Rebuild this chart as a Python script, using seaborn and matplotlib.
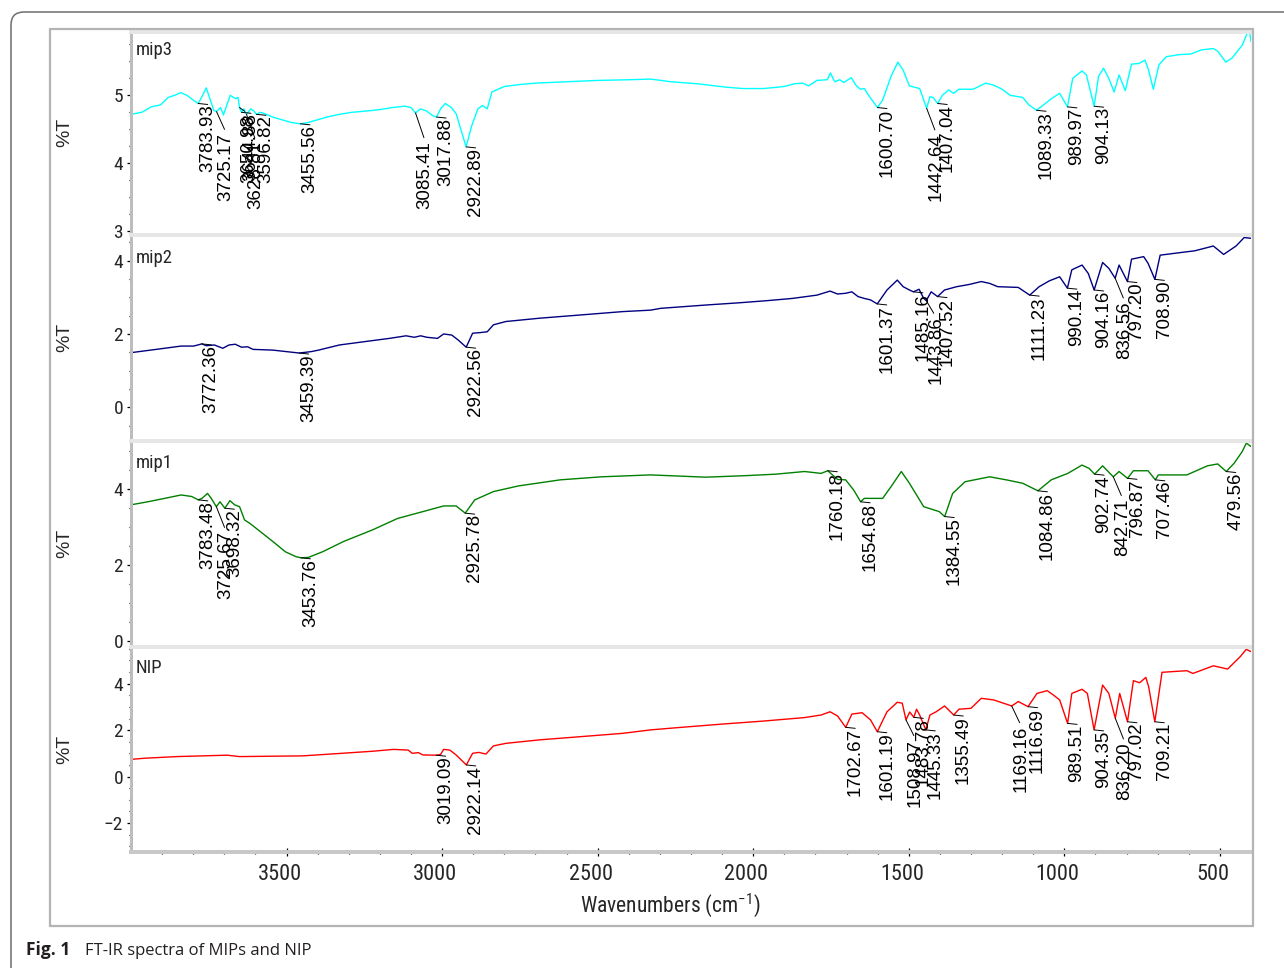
import matplotlib
matplotlib.use("Agg")
import numpy as np
import pandas as pd
import matplotlib.pyplot as plt
import seaborn as sns
from matplotlib import font_manager
from matplotlib.patches import FancyBboxPatch, Rectangle
from matplotlib.transforms import IdentityTransform, ScaledTranslation
from matplotlib.ticker import FixedLocator

# ---------------------------------------------------------------- data
# FT-IR transmittance (%T) spectra: (wavenumber cm-1, %T)
mip3_spectrum = [
    (4000, 4.72), (3965, 4.75), (3935, 4.83), (3905, 4.86), (3880, 4.97), (3860, 5.00),
    (3840, 5.04), (3820, 5.00), (3800, 4.93), (3783.93, 4.88), (3772, 4.98), (3758, 5.11),
    (3745, 4.93), (3734, 4.78), (3725.17, 4.76), (3712, 4.82), (3703, 4.71), (3681, 5.00),
    (3664, 4.95), (3656, 4.97), (3650.98, 4.82), (3644.88, 4.75), (3637, 4.80), (3628.81, 4.72),
    (3615, 4.80), (3605, 4.77), (3596.82, 4.72), (3585, 4.75), (3570, 4.73), (3545, 4.68),
    (3515, 4.64), (3485, 4.60), (3455.56, 4.58), (3430, 4.60), (3400, 4.64), (3370, 4.68),
    (3330, 4.72), (3290, 4.75), (3240, 4.77), (3200, 4.79), (3160, 4.82), (3120, 4.84),
    (3100, 4.82), (3085.41, 4.74), (3070, 4.80), (3050, 4.77), (3030, 4.70), (3017.88, 4.68),
    (3005, 4.80), (2990, 4.88), (2970, 4.82), (2955, 4.73), (2940, 4.50), (2922.89, 4.24),
    (2905, 4.55), (2885, 4.80), (2870, 4.85), (2855, 4.80), (2840, 5.05), (2800, 5.13),
    (2750, 5.16), (2700, 5.18), (2600, 5.20), (2500, 5.22), (2400, 5.23), (2330, 5.24),
    (2264, 5.20), (2178, 5.17), (2086, 5.12), (2033, 5.10), (1967, 5.10), (1901, 5.13),
    (1868, 5.17), (1841, 5.18), (1822, 5.14), (1795, 5.22), (1762, 5.23), (1752, 5.33),
    (1738, 5.20), (1722, 5.23), (1709, 5.19), (1685, 5.26), (1670, 5.15), (1656, 5.09),
    (1643, 5.10), (1623, 4.96), (1600.70, 4.82), (1584, 4.93), (1557, 5.28), (1535, 5.49),
    (1518, 5.37), (1498, 5.14), (1481, 5.12), (1465, 5.10), (1442.64, 4.81), (1432, 4.98),
    (1422, 4.97), (1407.04, 4.88), (1392, 5.00), (1372, 5.08), (1356, 5.03), (1339, 5.09),
    (1293, 5.09), (1253, 5.18), (1227, 5.15), (1200, 5.09), (1174, 5.00), (1134, 4.97),
    (1114, 4.86), (1089.33, 4.78), (1075, 4.83), (1042, 4.95), (1015, 5.03), (989.97, 4.83),
    (973, 5.25), (943, 5.36), (929, 5.30), (904.13, 4.84), (890, 5.28), (874, 5.40),
    (857, 5.25), (840, 5.05), (824, 5.30), (804, 5.07), (784, 5.46), (760, 5.47),
    (741, 5.52), (729, 5.37), (714, 5.09), (696, 5.45), (672, 5.57), (632, 5.60),
    (593, 5.61), (560, 5.67), (521, 5.69), (507, 5.65), (481, 5.49), (461, 5.55),
    (428, 5.74), (411, 5.93), (404, 5.93), (400, 5.79),
]

mip2_spectrum = [
    (4000, 1.49), (3946, 1.55), (3892, 1.61), (3839, 1.67), (3799, 1.67), (3785, 1.70),
    (3772.36, 1.73), (3758, 1.68), (3732, 1.70), (3705, 1.61), (3685, 1.70), (3665, 1.72),
    (3645, 1.64), (3625, 1.65), (3608, 1.58), (3544, 1.56), (3491, 1.51), (3459.39, 1.48),
    (3420, 1.52), (3397, 1.56), (3330, 1.70), (3250, 1.79), (3169, 1.88), (3116, 1.95),
    (3089, 1.91), (3069, 1.95), (3049, 1.91), (3015, 1.88), (2995, 2.00), (2969, 1.97),
    (2949, 1.84), (2922.56, 1.64), (2902, 2.02), (2875, 2.04), (2855, 2.06), (2835, 2.25),
    (2795, 2.34), (2687, 2.43), (2553, 2.52), (2420, 2.61), (2330, 2.65), (2297, 2.70),
    (2152, 2.79), (2046, 2.85), (1954, 2.91), (1874, 2.97), (1795, 3.06), (1753, 3.17),
    (1729, 3.09), (1703, 3.11), (1683, 3.15), (1663, 3.02), (1643, 2.97), (1623, 2.93),
    (1601.37, 2.82), (1570, 3.20), (1537, 3.47), (1518, 3.29), (1498, 3.20), (1485.16, 3.15),
    (1467, 3.22), (1452, 2.97), (1443.86, 2.91), (1428, 3.15), (1407.52, 3.02), (1385, 3.20),
    (1346, 3.29), (1306, 3.35), (1267, 3.43), (1240, 3.38), (1214, 3.29), (1148, 3.27),
    (1111.23, 3.06), (1081, 3.29), (1048, 3.45), (1015, 3.56), (990.14, 3.25), (976, 3.75),
    (943, 3.88), (923, 3.65), (904.16, 3.20), (877, 3.95), (857, 3.79), (836.56, 3.52),
    (824, 3.88), (797.20, 3.43), (784, 4.04), (745, 4.11), (731, 3.93), (708.90, 3.49),
    (692, 4.15), (646, 4.20), (580, 4.27), (521, 4.40), (488, 4.17), (448, 4.40),
    (422, 4.63), (400, 4.61),
]

mip1_spectrum = [
    (4000, 3.59), (3946, 3.67), (3892, 3.76), (3839, 3.85), (3805, 3.81), (3783.48, 3.72),
    (3772, 3.76), (3754, 3.89), (3742, 3.76), (3725.67, 3.54), (3714, 3.67), (3698.32, 3.50),
    (3682, 3.70), (3667, 3.59), (3651, 3.54), (3635, 3.19), (3618, 3.10), (3584, 2.88),
    (3544, 2.62), (3504, 2.35), (3470, 2.22), (3453.76, 2.19), (3430, 2.20), (3384, 2.35),
    (3317, 2.62), (3223, 2.93), (3143, 3.23), (3062, 3.41), (2995, 3.56), (2955, 3.56),
    (2925.78, 3.37), (2895, 3.72), (2835, 3.94), (2754, 4.09), (2620, 4.25), (2487, 4.33),
    (2330, 4.38), (2152, 4.32), (2026, 4.36), (1927, 4.40), (1835, 4.47), (1782, 4.42),
    (1760.18, 4.49), (1729, 4.26), (1703, 4.25), (1677, 3.98), (1654.68, 3.67), (1643, 3.76),
    (1584, 3.76), (1557, 4.07), (1524, 4.47), (1498, 4.16), (1452, 3.54), (1425, 3.47),
    (1402, 3.41), (1384.55, 3.28), (1359, 3.89), (1319, 4.20), (1240, 4.33), (1187, 4.25),
    (1134, 4.16), (1084.86, 3.96), (1042, 4.25), (989, 4.42), (943, 4.64), (920, 4.55),
    (902.74, 4.40), (877, 4.62), (842.71, 4.33), (824, 4.47), (796.87, 4.29), (778, 4.49),
    (731, 4.49), (707.46, 4.25), (698, 4.38), (606, 4.38), (540, 4.62), (507, 4.67),
    (479.56, 4.47), (454, 4.69), (428, 5.00), (415, 5.22), (400, 5.13),
]

nip_spectrum = [
    (4000, 0.74), (3955, 0.79), (3852, 0.86), (3691, 0.92), (3651, 0.86), (3450, 0.89),
    (3357, 0.97), (3223, 1.09), (3156, 1.17), (3109, 1.14), (3096, 1.00), (3076, 1.03),
    (3062, 0.93), (3019.09, 0.92), (3005, 0.95), (2995, 1.17), (2975, 1.14), (2955, 0.93),
    (2922.14, 0.50), (2902, 1.00), (2882, 1.04), (2859, 0.97), (2835, 1.32), (2795, 1.43),
    (2687, 1.58), (2553, 1.72), (2420, 1.86), (2330, 2.01), (2231, 2.12), (2099, 2.26),
    (1967, 2.39), (1835, 2.54), (1782, 2.65), (1753, 2.79), (1729, 2.61), (1702.67, 2.12),
    (1683, 2.69), (1650, 2.75), (1623, 2.44), (1601.19, 1.93), (1570, 2.79), (1537, 3.20),
    (1521, 3.16), (1508.97, 2.44), (1497, 2.78), (1483.78, 2.55), (1475, 2.90), (1465, 2.65),
    (1445.33, 2.01), (1432, 2.65), (1412, 2.79), (1385, 3.04), (1355.49, 2.65), (1339, 2.90),
    (1300, 2.94), (1267, 3.37), (1227, 3.30), (1169.16, 3.04), (1148, 3.23), (1116.69, 3.01),
    (1088, 3.58), (1055, 3.70), (1035, 3.51), (1015, 3.30), (989.51, 2.29), (976, 3.58),
    (943, 3.76), (926, 3.58), (904.35, 2.01), (877, 3.94), (857, 3.58), (836.20, 2.51),
    (822, 3.58), (797.02, 2.36), (778, 4.13), (758, 4.04), (738, 4.27), (729, 3.87),
    (709.21, 2.36), (686, 4.49), (606, 4.56), (587, 4.44), (521, 4.77), (475, 4.63),
    (435, 5.16), (415, 5.48), (400, 5.38),
]

# labelled band positions (cm-1)
mip3_peaks = [3783.93, 3725.17, 3650.98, 3644.88, 3628.81, 3596.82, 3455.56, 3085.41,
              3017.88, 2922.89, 1600.70, 1442.64, 1407.04, 1089.33, 989.97, 904.13]
mip2_peaks = [3772.36, 3459.39, 2922.56, 1601.37, 1485.16, 1443.86, 1407.52, 1111.23,
              990.14, 904.16, 836.56, 797.20, 708.90]
mip1_peaks = [3783.48, 3725.67, 3698.32, 3453.76, 2925.78, 1760.18, 1654.68, 1384.55,
              1084.86, 902.74, 842.71, 796.87, 707.46, 479.56]
nip_peaks = [3019.09, 2922.14, 1702.67, 1601.19, 1508.97, 1483.78, 1445.33, 1355.49,
             1169.16, 1116.69, 989.51, 904.35, 836.20, 797.02, 709.21]

sample_names = ["mip3", "mip2", "mip1", "NIP"]
x_ticks = [3500, 3000, 2500, 2000, 1500, 1000, 500]
y_ticks = [[3, 4, 5], [0, 2, 4], [0, 2, 4], [-2, 0, 2, 4]]

# ---------------------------------------------------------------- style
sns.set_style("white")

# pick a narrow sans face for the horizontal axis text when one is installed
narrow_props = dict(family=["Liberation Sans", "DejaVu Sans"])
narrow_scale = 0.9
_fonts = font_manager.fontManager.ttflist
_names = {f.name for f in _fonts}
for cand in ["Liberation Sans Narrow", "Arial Narrow", "DejaVu Sans Condensed",
             "Roboto Condensed", "Open Sans Condensed", "Noto Sans Condensed"]:
    if cand in _names:
        narrow_props = dict(family=[cand, "DejaVu Sans"])
        narrow_scale = 1.0
        break
else:
    for base in ["Liberation Sans", "DejaVu Sans", "Noto Sans", "Roboto", "Open Sans"]:
        if any(f.name == base and f.stretch in ("condensed", "semi-condensed") for f in _fonts):
            narrow_props = dict(family=[base, "DejaVu Sans"], stretch="condensed")
            narrow_scale = 1.0
            break

REGULAR = ["Liberation Sans", "DejaVu Sans"]
CAPTION = ["Open Sans", "DejaVu Sans"]
plt.rcParams["font.family"] = REGULAR
plt.rcParams["mathtext.fontset"] = "custom"
plt.rcParams["mathtext.rm"] = narrow_props["family"][0]
plt.rcParams["mathtext.default"] = "regular"

W, H = 1284, 968
PT = 0.72  # points per pixel at 100 dpi

fig = plt.figure(figsize=(W / 100, H / 100), dpi=100)

# plot area (pixels): x range and vertical extent of each strip
X_LEFT, X_RIGHT = 131, 1251
strip_px = [(32, 233), (235, 439), (441, 645), (647, 852)]
strip_ylim = [(2.97, 5.934), (-0.865, 4.70), (-0.114, 5.276), (-3.25, 5.58)]
strip_minor = [0.25, 0.5, 0.5, 0.5]
line_colors = ["#00ffff", "#000080", "#008000", "#ff0000"]
name_y_px = [50, 258, 463, 668]

# extra downward shift (px) of crowded band labels
label_drop = {
    "3725.17": 20, "3650.98": 6, "3628.81": 26, "3085.41": 27, "1442.64": 24,
    "1443.86": 15, "836.56": 22,
    "3725.67": 23, "842.71": 21,
    "1508.97": 18, "1169.16": 19, "836.20": 23,
}

spectra = [mip3_spectrum, mip2_spectrum, mip1_spectrum, nip_spectrum]
peak_sets = [mip3_peaks, mip2_peaks, mip1_peaks, nip_peaks]

# outer rounded frame and inner chart box
frame = FancyBboxPatch((11, -60), 1400, H - 12 + 60,
                       boxstyle="round,pad=0,rounding_size=13",
                       transform=IdentityTransform(), fill=False,
                       edgecolor="#6e6e6e", linewidth=1.1, clip_on=False)
fig.add_artist(frame)
box = Rectangle((50, H - 926), 1203, 897, transform=IdentityTransform(),
                fill=False, edgecolor="#b4b4b4", linewidth=1.6, clip_on=False)
fig.add_artist(box)

axes = []
for i, (name, color, data, peaks) in enumerate(zip(sample_names, line_colors, spectra, peak_sets)):
    top, bottom = strip_px[i]
    ax = fig.add_axes([X_LEFT / W, 1 - bottom / H, (X_RIGHT - X_LEFT) / W, (bottom - top) / H])
    axes.append(ax)
    df = pd.DataFrame(data, columns=["wavenumber", "T"])
    sns.lineplot(data=df, x="wavenumber", y="T", ax=ax, color=color, linewidth=1.0,
                 estimator=None, sort=False, legend=False)
    ax.set_xlim(4000, 400)
    ax.set_ylim(*strip_ylim[i])
    ax.set_xlabel("")
    ax.set_ylabel("")
    ax.patch.set_alpha(0)

    for side in ("right", "bottom"):
        ax.spines[side].set_visible(False)
    ax.spines["top"].set_color("#e6e6e6")
    ax.spines["top"].set_linewidth(4 * PT)
    ax.spines["left"].set_color("#bdbdbd")
    ax.spines["left"].set_linewidth(3 * PT)

    ax.yaxis.set_major_locator(FixedLocator(y_ticks[i]))
    lo, hi = strip_ylim[i]
    step = strip_minor[i]
    ax.yaxis.set_minor_locator(FixedLocator(np.arange(np.ceil(lo / step) * step, hi, step)))
    ax.tick_params(axis="y", which="major", direction="out", length=3.2, width=0.9,
                   color="black", pad=2.5, labelsize=14 * narrow_scale, left=True)
    ax.tick_params(axis="y", which="minor", direction="out", length=1.6, width=0.9,
                   color="black", left=True)
    for lab in ax.get_yticklabels():
        lab.update(narrow_props)

    if i < 3:
        ax.tick_params(axis="x", which="both", bottom=False, labelbottom=False)

    # sample name
    fig.text(136 / W, 1 - name_y_px[i] / H, name, ha="left", va="center",
             fontsize=13.5 * narrow_scale, **narrow_props)
    # y-axis title
    fig.text(65 / W, 1 - (top + bottom) / 2 / H, "%T", rotation=90,
             ha="center", va="center", fontsize=14)

    # band labels
    wn = df["wavenumber"].to_numpy()[::-1]
    tv = df["T"].to_numpy()[::-1]
    for p in peaks:
        txt = f"{p:.2f}"
        yv = np.interp(p, wn, tv)
        drop = label_drop.get(txt, 0)
        ax.annotate(txt, xy=(p, yv), xytext=(1.0 * PT, -(1 + drop) * PT),
                    textcoords="offset points", rotation=90, ha="left", va="top",
                    fontsize=13.5, family=REGULAR, color="black", zorder=5,
                    arrowprops=dict(arrowstyle="-", color="black", lw=0.7,
                                    shrinkA=0, shrinkB=0, relpos=(0.5, 1.0)))

# bottom wavenumber axis
axb = axes[-1]
axb.spines["bottom"].set_visible(True)
axb.spines["bottom"].set_color("#c8c8c8")
axb.spines["bottom"].set_linewidth(4 * PT)
axb.xaxis.set_major_locator(FixedLocator(x_ticks))
axb.xaxis.set_minor_locator(FixedLocator(list(range(3900, 450, -100))))
axb.tick_params(axis="x", which="major", direction="inout", length=6, width=0.9,
                color="black", pad=6, labelsize=16 * narrow_scale, bottom=True)
axb.tick_params(axis="x", which="minor", direction="inout", length=3.5, width=0.9,
                color="black", bottom=True)
axb.set_xticklabels([str(t) for t in x_ticks])
shift = ScaledTranslation(-7 / 100, 0, fig.dpi_scale_trans)
for lab in axb.get_xticklabels():
    lab.update(narrow_props)
    lab.set_transform(lab.get_transform() + shift)

fig.text(670 / W, 1 - 905 / H, "Wavenumbers (cm$^{-1}$)", ha="center", va="center",
         fontsize=15.5 * narrow_scale, **narrow_props)

# caption
fig.text(26 / W, 1 - 955 / H, "Fig. 1", ha="left", va="baseline", fontsize=12.5,
         fontweight="bold", family=CAPTION, color="#231f20")
fig.text(85 / W, 1 - 955 / H, "FT-IR spectra of MIPs and NIP", ha="left", va="baseline",
         fontsize=12, family=CAPTION, color="#231f20")

fig.savefig("out.png", dpi=100)
